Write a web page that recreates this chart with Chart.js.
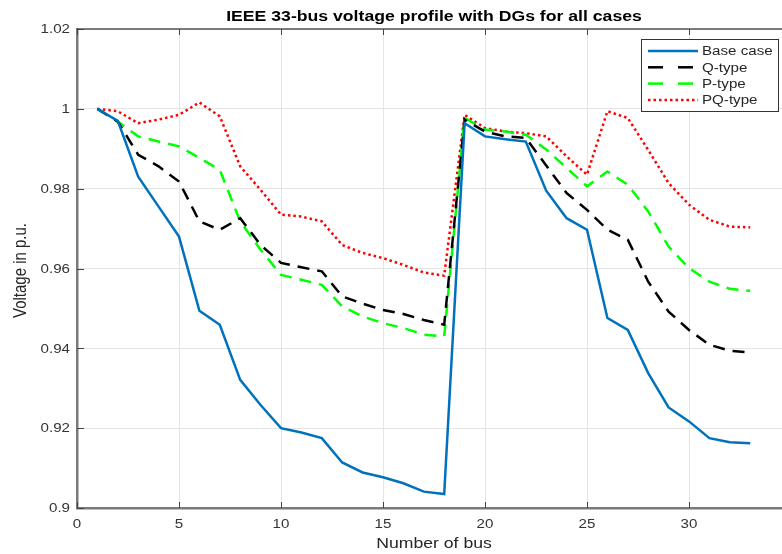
<!DOCTYPE html>
<html>
<head>
<meta charset="utf-8">
<script src="https://cdn.jsdelivr.net/npm/chart.js@4.4.0/dist/chart.umd.min.js"></script>
<style>
  html, body { margin: 0; padding: 0; background: #fff; overflow: hidden; }
  #wrap { width: 782px; height: 554px; overflow: hidden; }
</style>
</head>
<body>
<div id="wrap"><canvas id="chart" width="800" height="554"></canvas></div>
<script>
// bus numbers
const buses = [1, 2, 3, 4, 5, 6, 7, 8, 9, 10, 11, 12, 13, 14, 15, 16, 17, 18, 19, 20, 21, 22, 23, 24, 25, 26, 27, 28, 29, 30, 31, 32, 33];

// voltages (p.u.)
const baseCase = [1.0, 0.997, 0.983, 0.9755, 0.968, 0.9494, 0.9459, 0.9321, 0.9258, 0.92, 0.9189, 0.9175, 0.9114, 0.9089, 0.9077, 0.9062, 0.9041, 0.9035,
  0.9964, 0.9931, 0.9924, 0.9918, 0.9795, 0.9726, 0.9697, 0.9476, 0.9446, 0.9338, 0.9252, 0.9217, 0.9175, 0.9165, 0.9162];
const qType = [1.0, 0.9968, 0.9885, 0.9856, 0.9818, 0.9718, 0.9697, 0.9726, 0.9659, 0.9614, 0.9603, 0.9593, 0.953, 0.9512, 0.9496, 0.9486, 0.9471, 0.9459,
  0.9973, 0.9943, 0.9931, 0.9927, 0.9858, 0.9789, 0.9747, 0.9697, 0.9672, 0.9567, 0.9492, 0.9446, 0.9409, 0.9394, 0.939];
const pType = [1.0, 0.9968, 0.9931, 0.9918, 0.9906, 0.9877, 0.9847, 0.9718, 0.9647, 0.9584, 0.9572, 0.9559, 0.9505, 0.948, 0.9463, 0.9451, 0.9434, 0.943,
  0.9977, 0.9948, 0.9943, 0.9935, 0.9898, 0.9852, 0.9806, 0.9843, 0.981, 0.9743, 0.9655, 0.9601, 0.9567, 0.9549, 0.9544];
const pqType = [1.0, 0.9994, 0.9964, 0.9973, 0.9985, 1.0016, 0.9981, 0.9856, 0.9797, 0.9735, 0.973, 0.9718, 0.9659, 0.9639, 0.9626, 0.9609, 0.959, 0.9582,
  0.9985, 0.9952, 0.9943, 0.9939, 0.9931, 0.9881, 0.9835, 0.9994, 0.9977, 0.9897, 0.9814, 0.976, 0.9722, 0.9705, 0.9703];

const seriesNames = ["Base case", "Q-type", "P-type", "PQ-type"];
const xTicks = [0, 5, 10, 15, 20, 25, 30, 35];
const yTicks = [0.9, 0.92, 0.94, 0.96, 0.98, 1, 1.02];

const titleText = "IEEE 33-bus voltage profile with DGs for all cases";
const xTitle = "Number of bus";
const yTitle = "Voltage in p.u.";

const FONT = "'Liberation Sans', Arial, sans-serif";
const AXIS_GREY = "#7a7a7a";
const SX = 1.26; // the source figure is stretched sideways

function pts(arr) {
  return buses.map((b, i) => ({ x: b, y: arr[i] }));
}

// text squeezed/stretched horizontally like the reference
function wideText(c, text, x, y, align) {
  c.save();
  c.translate(x, y);
  c.scale(SX, 1);
  c.textAlign = align;
  c.fillText(text, 0, 0);
  c.restore();
}

// titles, box top edge, inward ticks, tick labels and legend (MATLAB look)
const decor = {
  id: "decor",
  afterDraw(chart) {
    const c = chart.ctx;
    const a = chart.chartArea;
    const xs = chart.scales.x;
    const ys = chart.scales.y;
    const cx = (a.left + a.right) / 2;
    c.save();

    // top box edge
    c.strokeStyle = "#555";
    c.lineWidth = 1.5;
    c.beginPath();
    c.moveTo(a.left, a.top);
    c.lineTo(a.right, a.top);
    c.stroke();

    // inward ticks
    c.strokeStyle = "#444";
    c.lineWidth = 1;
    xTicks.forEach((t) => {
      const px = Math.round(xs.getPixelForValue(t)) + 0.5;
      c.beginPath();
      c.moveTo(px, a.bottom); c.lineTo(px, a.bottom - 6);
      c.moveTo(px, a.top); c.lineTo(px, a.top + 6);
      c.stroke();
    });
    yTicks.forEach((t) => {
      const py = Math.round(ys.getPixelForValue(t)) + 0.5;
      c.beginPath();
      c.moveTo(a.left, py); c.lineTo(a.left + 7, py);
      c.stroke();
    });

    // tick labels
    c.fillStyle = "#333";
    c.font = "12px " + FONT;
    c.textBaseline = "middle";
    xTicks.forEach((t) => {
      if (t === 35) return; // falls outside the crop
      wideText(c, String(t), xs.getPixelForValue(t), a.bottom + 17, "center");
    });
    yTicks.forEach((t) => {
      wideText(c, String(+t.toFixed(2)), a.left - 7, ys.getPixelForValue(t) + 1, "right");
    });

    // title
    c.fillStyle = "#000";
    c.font = "bold 14px " + FONT;
    wideText(c, titleText, cx, 17, "center");

    // axis titles
    c.fillStyle = "#262626";
    c.font = "14px " + FONT;
    wideText(c, xTitle, cx, 544, "center");
    c.save();
    c.translate(21, (a.top + a.bottom) / 2 + 2);
    c.rotate(-Math.PI / 2);
    c.scale(1, SX);
    c.font = "15px " + FONT;
    c.textAlign = "center";
    c.fillText(yTitle, 0, 0);
    c.restore();

    // legend box
    const lx = 641, ly = 39, lw = 137, lh = 72;
    c.fillStyle = "#fff";
    c.fillRect(lx, ly, lw, lh);
    c.strokeStyle = "#333";
    c.lineWidth = 1;
    c.strokeRect(lx + 0.5, ly + 0.5, lw, lh);
    c.font = "12px " + FONT;
    chart.data.datasets.forEach((ds, i) => {
      const y = 51 + i * 16.3;
      c.strokeStyle = ds.borderColor;
      c.lineWidth = ds.borderWidth;
      const dash = ds.borderDash && ds.borderDash[0] > 5 ? [15, 15] : (ds.borderDash || []);
      c.setLineDash(dash);
      c.beginPath();
      c.moveTo(648, y);
      c.lineTo(698, y);
      c.stroke();
      c.setLineDash([]);
      c.fillStyle = "#262626";
      wideText(c, ds.label, 702, y + 1, "left");
    });
    c.restore();
  },
};

const ctx = document.getElementById("chart").getContext("2d");
const chart = new Chart(ctx, {
  type: "line",
  data: {
    datasets: [
      { label: seriesNames[0], data: pts(baseCase), borderColor: "#0072BD", borderWidth: 2.5 },
      { label: seriesNames[1], data: pts(qType), borderColor: "#000000", borderWidth: 2.5, borderDash: [12, 8] },
      { label: seriesNames[2], data: pts(pType), borderColor: "#00FF00", borderWidth: 2.5, borderDash: [12, 8] },
      { label: seriesNames[3], data: pts(pqType), borderColor: "#FF0000", borderWidth: 2.5, borderDash: [2.5, 3] },
    ],
  },
  options: {
    responsive: false,
    animation: false,
    layout: { padding: { top: 29, right: 9, left: 0, bottom: 0 } },
    elements: {
      point: { radius: 0 },
      line: { tension: 0, fill: false },
    },
    plugins: {
      legend: { display: false },
      title: { display: false },
      tooltip: { enabled: false },
    },
    scales: {
      x: {
        type: "linear",
        min: 0,
        max: 35,
        afterBuildTicks: (s) => { s.ticks = xTicks.map((v) => ({ value: v })); },
        afterFit: (s) => { s.height = 46; },
        grid: { color: "#e4e4e4", drawTicks: false },
        border: { color: AXIS_GREY, width: 2.5 },
        ticks: { display: false },
      },
      y: {
        min: 0.9,
        max: 1.02,
        afterBuildTicks: (s) => { s.ticks = yTicks.map((v) => ({ value: v })); },
        afterFit: (s) => { s.width = 77; },
        grid: { color: "#e4e4e4", drawTicks: false },
        border: { color: AXIS_GREY, width: 2.5 },
        ticks: { display: false },
      },
    },
  },
  plugins: [decor],
});
</script>
</body>
</html>
